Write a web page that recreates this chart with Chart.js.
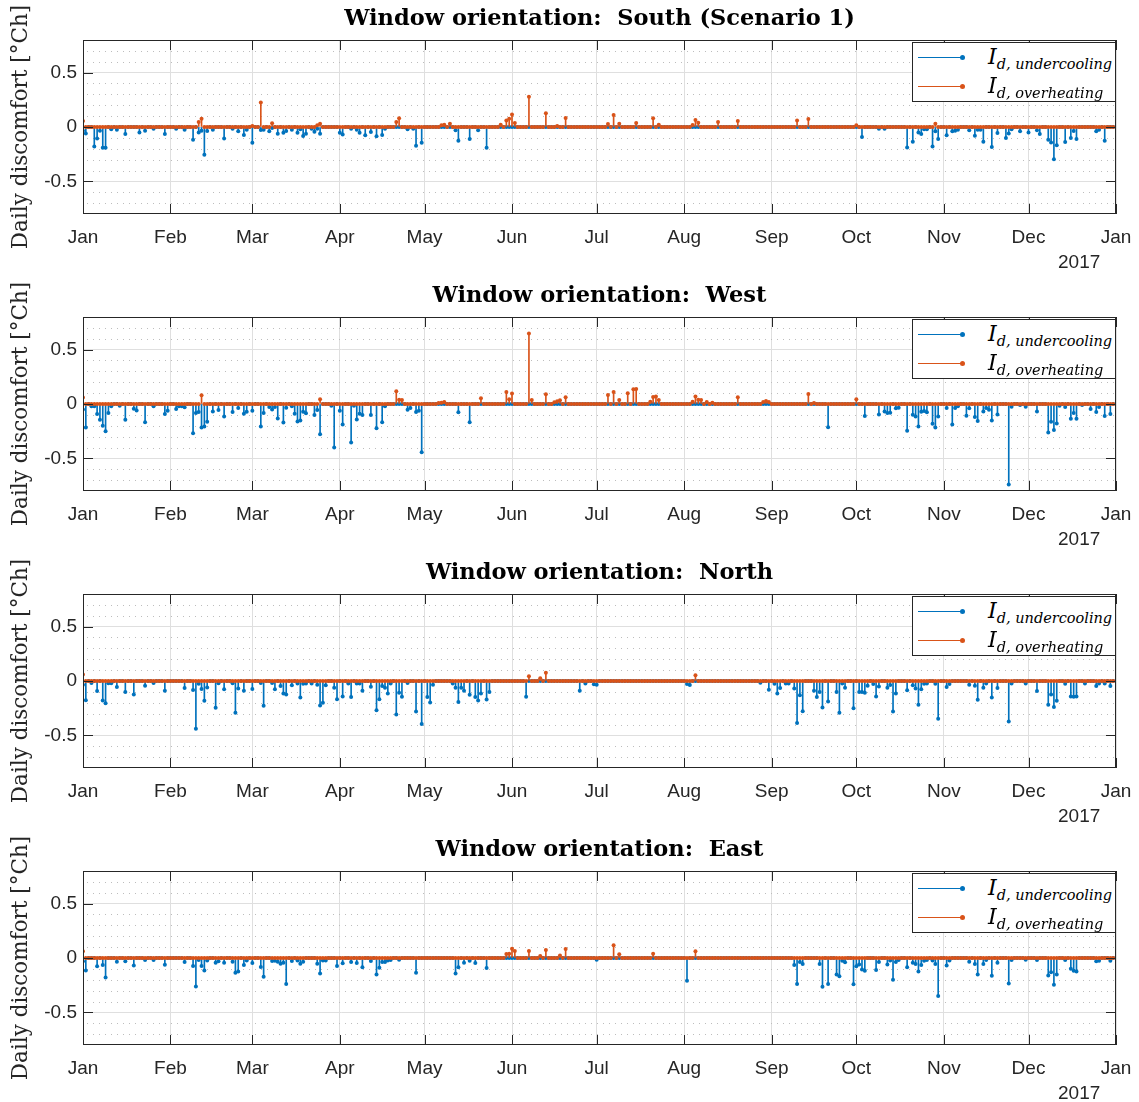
<!DOCTYPE html>
<html>
<head>
<meta charset="utf-8">
<title>Daily discomfort by window orientation</title>
<script src="https://cdn.jsdelivr.net/npm/chart.js@4.4.0/dist/chart.umd.min.js"></script>
<style>
  body { margin: 0; background: #fff; width: 1139px; height: 1102px; overflow: hidden; }
  .panel { position: absolute; left: 0; width: 1139px; height: 277px; }
  .legend { position: absolute; left: 912px; top: 42px; width: 202px; height: 58px;
            border: 1px solid #262626; background: #fff; font-family: 'DejaVu Serif', serif; color: #000; }
  .legend .row { position: absolute; left: 0; width: 202px; height: 28px; }
  .legend .line { position: absolute; left: 5px; top: 14px; width: 45px; height: 1px; }
  .legend .dot { position: absolute; left: 47px; top: 12px; width: 5px; height: 5px; border-radius: 50%; }
  .legend .txt { position: absolute; left: 75px; top: 0; font-style: italic; font-size: 22px;
                 line-height: 28px; white-space: nowrap; }
  .legend sub { font-size: 14.5px; vertical-align: -5px; }
  .year { position: absolute; left: 1058px; top: 251px; font: 19px 'Liberation Sans', Arial, sans-serif; color: #262626; }
</style>
</head>
<body>
<div id="page"></div>
<script>
// x axis: day of year 2016 (leap year), month boundaries
const dayCount = 366;
const monthStarts = [0, 31, 60, 91, 121, 152, 182, 213, 244, 274, 305, 335, 366];
const monthLabels = ['Jan', 'Feb', 'Mar', 'Apr', 'May', 'Jun', 'Jul', 'Aug', 'Sep', 'Oct', 'Nov', 'Dec', 'Jan'];
const yearLabel = '2017';
const yTicks = [-0.5, 0, 0.5];
const minorYTicks = [-0.7, -0.6, -0.4, -0.3, -0.2, -0.1, 0.1, 0.2, 0.3, 0.4, 0.6, 0.7];

const panelTitles = [
  'Window orientation:  South (Scenario 1)',
  'Window orientation:  West',
  'Window orientation:  North',
  'Window orientation:  East'
];

// [day, value] for every day with non-zero discomfort; all other days are 0
const southCooling = [[0,-0.034],[1,-0.06],[4,-0.18],[5,-0.105],[6,-0.034],[7,-0.19],[8,-0.19],[10,-0.02],[12,-0.025],[15,-0.065],[20,-0.05],[22,-0.034],[25,-0.015],[29,-0.065],[33,-0.015],[36,-0.025],[39,-0.117],[41,-0.05],[42,-0.034],[43,-0.256],[44,-0.037],[46,-0.025],[50,-0.105],[53,-0.015],[55,-0.04],[57,-0.074],[58,-0.025],[60,-0.145],[63,-0.028],[64,-0.025],[66,-0.04],[67,-0.01],[69,-0.062],[71,-0.052],[72,-0.037],[74,-0.025],[76,-0.052],[77,-0.02],[78,-0.083],[79,-0.062],[81,-0.015],[82,-0.043],[83,-0.015],[84,-0.062],[91,-0.052],[92,-0.068],[95,-0.015],[97,-0.025],[98,-0.052],[100,-0.077],[102,-0.046],[104,-0.086],[106,-0.074],[107,-0.015],[115,-0.02],[117,-0.015],[118,-0.173],[120,-0.145],[132,-0.03],[133,-0.127],[137,-0.11],[140,-0.03],[143,-0.19],
  [276,-0.093],[282,-0.015],[284,-0.015],[292,-0.188],[294,-0.136],[296,-0.05],[297,-0.065],[298,-0.02],[299,-0.02],[301,-0.18],[302,-0.04],[303,-0.11],[306,-0.077],[308,-0.04],[309,-0.034],[310,-0.025],[314,-0.03],[316,-0.08],[317,-0.025],[318,-0.025],[319,-0.136],[322,-0.185],[324,-0.056],[327,-0.1],[328,-0.06],[329,-0.02],[332,-0.04],[335,-0.05],[338,-0.03],[339,-0.065],[342,-0.117],[343,-0.142],[344,-0.296],[345,-0.167],[348,-0.139],[350,-0.1],[351,-0.037],[352,-0.11],[359,-0.04],[360,-0.025],[362,-0.127]];
const southHeating = [[0,0.055],[41,0.046],[42,0.077],[60,0.01],[63,0.225],[67,0.034],[83,0.015],[84,0.03],[111,0.046],[112,0.08],[127,0.015],[128,0.02],[130,0.03],[148,0.02],[150,0.06],[151,0.077],[152,0.114],[153,0.037],[158,0.278],[164,0.127],[168,0.01],[171,0.083],[186,0.028],[188,0.11],[190,0.03],[196,0.037],[202,0.08],[204,0.02],[216,0.018],[217,0.065],[218,0.04],[225,0.046],[232,0.055],[253,0.06],[257,0.074],[274,0.015],[302,0.03]];

const westCooling = [[0,-0.05],[1,-0.216],[3,-0.02],[4,-0.02],[5,-0.093],[6,-0.145],[7,-0.2],[8,-0.25],[9,-0.083],[10,-0.02],[13,-0.015],[15,-0.145],[18,-0.043],[19,-0.06],[22,-0.167],[25,-0.02],[29,-0.093],[30,-0.062],[33,-0.046],[34,-0.02],[35,-0.02],[36,-0.03],[39,-0.27],[40,-0.083],[41,-0.074],[42,-0.216],[43,-0.207],[44,-0.164],[46,-0.068],[48,-0.056],[50,-0.114],[53,-0.074],[55,-0.037],[57,-0.09],[58,-0.071],[60,-0.062],[63,-0.207],[64,-0.083],[66,-0.028],[67,-0.05],[68,-0.028],[69,-0.133],[71,-0.17],[72,-0.034],[74,-0.02],[75,-0.09],[76,-0.16],[77,-0.151],[78,-0.071],[79,-0.086],[82,-0.1],[83,-0.056],[84,-0.278],[88,-0.015],[89,-0.4],[91,-0.062],[92,-0.188],[95,-0.355],[96,-0.015],[97,-0.142],[98,-0.09],[99,-0.1],[102,-0.1],[104,-0.222],[106,-0.167],[107,-0.02],[115,-0.052],[116,-0.037],[118,-0.074],[119,-0.062],[120,-0.444],[133,-0.077],[137,-0.167],
  [264,-0.213],[277,-0.111],[282,-0.096],[284,-0.068],[285,-0.083],[286,-0.08],[288,-0.04],[289,-0.034],[292,-0.247],[294,-0.099],[295,-0.114],[296,-0.207],[297,-0.071],[298,-0.065],[299,-0.077],[301,-0.182],[302,-0.216],[303,-0.114],[306,-0.037],[308,-0.188],[309,-0.037],[310,-0.02],[313,-0.108],[314,-0.04],[316,-0.12],[317,-0.157],[319,-0.068],[320,-0.037],[321,-0.052],[322,-0.151],[324,-0.096],[328,-0.74],[329,-0.025],[332,-0.01],[334,-0.025],[338,-0.068],[342,-0.262],[343,-0.164],[344,-0.238],[345,-0.179],[346,-0.015],[348,-0.028],[350,-0.136],[351,-0.083],[352,-0.136],[354,-0.01],[357,-0.046],[359,-0.074],[360,-0.028],[362,-0.111],[364,-0.093]];
const westHeating = [[0,0.059],[42,0.08],[84,0.043],[111,0.117],[112,0.04],[113,0.037],[126,0.01],[127,0.012],[128,0.018],[141,0.052],[150,0.111],[151,0.043],[152,0.096],[158,0.648],[159,0.037],[164,0.09],[167,0.015],[168,0.025],[169,0.034],[171,0.062],[186,0.083],[188,0.111],[190,0.037],[193,0.1],[195,0.136],[196,0.139],[201,0.02],[202,0.065],[203,0.068],[204,0.037],[216,0.02],[217,0.068],[218,0.04],[219,0.037],[221,0.018],[223,0.012],[232,0.062],[241,0.018],[242,0.028],[243,0.018],[257,0.093],[259,0.01],[274,0.043]];

const northCooling = [[0,-0.034],[1,-0.176],[3,-0.018],[5,-0.093],[7,-0.179],[8,-0.204],[9,-0.02],[10,-0.02],[12,-0.056],[15,-0.1],[18,-0.123],[22,-0.043],[25,-0.018],[29,-0.09],[36,-0.065],[39,-0.083],[40,-0.44],[41,-0.025],[42,-0.074],[43,-0.182],[44,-0.059],[47,-0.247],[48,-0.02],[50,-0.077],[53,-0.02],[54,-0.293],[55,-0.068],[57,-0.09],[60,-0.074],[63,-0.018],[64,-0.228],[67,-0.018],[68,-0.077],[70,-0.046],[71,-0.114],[72,-0.123],[74,-0.04],[76,-0.022],[77,-0.151],[78,-0.025],[79,-0.022],[81,-0.022],[83,-0.034],[84,-0.225],[85,-0.2],[86,-0.04],[89,-0.062],[90,-0.167],[92,-0.142],[94,-0.022],[95,-0.148],[97,-0.022],[98,-0.022],[99,-0.09],[102,-0.052],[104,-0.269],[105,-0.167],[106,-0.046],[107,-0.062],[108,-0.114],[109,-0.022],[111,-0.309],[112,-0.108],[113,-0.145],[115,-0.018],[118,-0.28],[120,-0.395],[122,-0.148],[123,-0.198],[124,-0.034],[131,-0.022],[132,-0.062],[133,-0.194],[134,-0.062],[135,-0.09],[137,-0.127],[139,-0.148],[140,-0.179],[141,-0.114],[143,-0.17],[144,-0.1],[157,-0.145],[176,-0.09],[178,-0.022],[181,-0.031],
  [182,-0.034],[214,-0.028],[215,-0.037],[240,-0.015],[243,-0.08],[245,-0.025],[246,-0.114],[247,-0.065],[249,-0.022],[250,-0.022],[252,-0.068],[253,-0.386],[254,-0.13],[255,-0.278],[259,-0.09],[260,-0.148],[261,-0.1],[262,-0.244],[264,-0.188],[267,-0.1],[268,-0.293],[269,-0.022],[270,-0.062],[273,-0.25],[275,-0.1],[276,-0.102],[277,-0.108],[278,-0.043],[280,-0.028],[281,-0.142],[282,-0.05],[285,-0.062],[286,-0.037],[287,-0.28],[288,-0.114],[292,-0.086],[294,-0.04],[295,-0.068],[296,-0.219],[297,-0.077],[298,-0.025],[299,-0.022],[302,-0.025],[303,-0.346],[306,-0.056],[307,-0.028],[314,-0.034],[316,-0.043],[317,-0.173],[319,-0.062],[320,-0.022],[322,-0.151],[324,-0.065],[328,-0.373],[329,-0.022],[334,-0.022],[338,-0.093],[342,-0.219],[343,-0.123],[344,-0.238],[345,-0.182],[348,-0.025],[350,-0.142],[351,-0.145],[352,-0.142],[355,-0.022],[359,-0.046],[360,-0.022],[362,-0.022],[364,-0.046]];
const northHeating = [[0,0.059],[158,0.043],[162,0.025],[164,0.077],[217,0.052]];

const eastCooling = [[0,-0.031],[1,-0.114],[5,-0.077],[7,-0.065],[8,-0.179],[12,-0.034],[15,-0.031],[18,-0.068],[22,-0.018],[25,-0.018],[29,-0.062],[36,-0.037],[39,-0.074],[40,-0.262],[41,-0.018],[42,-0.074],[43,-0.114],[44,-0.022],[47,-0.043],[48,-0.031],[50,-0.043],[53,-0.034],[54,-0.136],[55,-0.123],[57,-0.065],[58,-0.022],[60,-0.046],[63,-0.083],[64,-0.173],[67,-0.028],[68,-0.025],[69,-0.034],[70,-0.052],[71,-0.043],[72,-0.238],[74,-0.028],[76,-0.022],[77,-0.052],[78,-0.034],[83,-0.052],[84,-0.142],[85,-0.022],[86,-0.022],[90,-0.074],[92,-0.049],[95,-0.037],[97,-0.046],[99,-0.086],[102,-0.028],[104,-0.151],[105,-0.09],[106,-0.037],[107,-0.037],[108,-0.022],[109,-0.018],[112,-0.015],[118,-0.136],[132,-0.142],[133,-0.086],[135,-0.043],[137,-0.025],[139,-0.046],[143,-0.093],
  [182,-0.015],[214,-0.21],[252,-0.065],[253,-0.24],[254,-0.037],[255,-0.056],[261,-0.056],[262,-0.265],[264,-0.238],[267,-0.151],[268,-0.167],[269,-0.025],[270,-0.04],[273,-0.241],[274,-0.077],[275,-0.059],[276,-0.105],[277,-0.117],[281,-0.111],[282,-0.037],[285,-0.059],[286,-0.022],[287,-0.2],[288,-0.037],[289,-0.018],[292,-0.086],[294,-0.043],[295,-0.056],[296,-0.123],[297,-0.065],[298,-0.025],[299,-0.018],[301,-0.022],[302,-0.056],[303,-0.349],[306,-0.068],[307,-0.022],[314,-0.034],[316,-0.056],[317,-0.151],[319,-0.056],[320,-0.018],[322,-0.164],[324,-0.043],[328,-0.235],[329,-0.018],[334,-0.015],[338,-0.018],[342,-0.16],[343,-0.13],[344,-0.247],[345,-0.151],[348,-0.018],[350,-0.099],[351,-0.117],[352,-0.123],[359,-0.031],[360,-0.025],[364,-0.025]];
const eastHeating = [[0,0.062],[150,0.037],[151,0.04],[152,0.086],[153,0.065],[158,0.065],[162,0.018],[164,0.074],[169,0.022],[171,0.083],[188,0.117],[190,0.034],[202,0.04],[217,0.062]];

const panels = [
  [southCooling, southHeating],
  [westCooling, westHeating],
  [northCooling, northHeating],
  [eastCooling, eastHeating]
];

const blue = '#0072BD';
const orange = '#D95319';
const tickFont = { family: "'Liberation Sans', Arial, sans-serif", size: 19 };

// one point per day, zero where nothing was recorded
function dailySeries(stems) {
  const byDay = new Map(stems);
  const pts = [];
  for (let d = 0; d < dayCount; d++) {
    pts.push({ x: d, y: byDay.has(d) ? byDay.get(d) : 0 });
  }
  return pts;
}

// dotted minor grid, axes box and inward tick marks
const axesFrame = {
  id: 'axesFrame',
  beforeDatasetsDraw(chart) {
    const { ctx, chartArea: a, scales: { y } } = chart;
    ctx.save();
    ctx.strokeStyle = '#bdbdbd';
    ctx.lineWidth = 1;
    ctx.setLineDash([1, 5]);
    minorYTicks.forEach(v => {
      const py = Math.round(y.getPixelForValue(v)) + 0.5;
      ctx.beginPath();
      ctx.moveTo(a.left + 4, py);
      ctx.lineTo(a.right, py);
      ctx.stroke();
    });
    ctx.restore();
  },
  afterDatasetsDraw(chart) {
    const { ctx, chartArea: a, scales: { x, y } } = chart;
    const len = 10;
    ctx.save();
    ctx.strokeStyle = '#262626';
    ctx.lineWidth = 1;
    ctx.beginPath();
    monthStarts.forEach(v => {
      const px = Math.round(x.getPixelForValue(v)) + 0.5;
      ctx.moveTo(px, a.bottom); ctx.lineTo(px, a.bottom - len);
      ctx.moveTo(px, a.top); ctx.lineTo(px, a.top + len);
    });
    yTicks.forEach(v => {
      const py = Math.round(y.getPixelForValue(v)) + 0.5;
      ctx.moveTo(a.left, py); ctx.lineTo(a.left + len, py);
      ctx.moveTo(a.right, py); ctx.lineTo(a.right - len, py);
    });
    ctx.stroke();
    ctx.strokeRect(Math.round(a.left) + 0.5, Math.round(a.top) + 0.5,
                   Math.round(a.right - a.left) - 1, Math.round(a.bottom - a.top) - 1);
    ctx.restore();
  }
};

function legendRow(top, color, sub) {
  return '<div class="row" style="top:' + top + 'px">' +
    '<div class="line" style="background:' + color + '"></div>' +
    '<div class="dot" style="background:' + color + '"></div>' +
    '<div class="txt">I<sub>d, ' + sub + '</sub></div></div>';
}

const page = document.getElementById('page');

panels.forEach((series, i) => {
  const panel = document.createElement('div');
  panel.className = 'panel';
  panel.style.top = (i * 277) + 'px';
  panel.innerHTML = '<canvas width="1139" height="277"></canvas>' +
    '<div class="legend">' + legendRow(0, blue, 'undercooling') + legendRow(29, orange, 'overheating') + '</div>' +
    '<div class="year">' + yearLabel + '</div>';
  page.appendChild(panel);

  const cooling = dailySeries(series[0]);
  const heating = dailySeries(series[1]);

  new Chart(panel.querySelector('canvas'), {
    type: 'bar',
    data: {
      datasets: [
        { type: 'bar', data: cooling, backgroundColor: blue, barThickness: 1, grouped: false, borderWidth: 0, order: 4 },
        { type: 'line', data: cooling, showLine: false, pointRadius: 2, pointBackgroundColor: blue, pointBorderWidth: 0, order: 3 },
        { type: 'bar', data: heating, backgroundColor: orange, barThickness: 1, grouped: false, borderWidth: 0, order: 2 },
        { type: 'line', data: heating, showLine: false, pointRadius: 2, pointBackgroundColor: orange, pointBorderWidth: 0, order: 1 }
      ]
    },
    options: {
      responsive: false,
      animation: false,
      events: [],
      layout: { padding: { left: 0, right: 23, top: 0, bottom: 0 } },
      plugins: {
        legend: { display: false },
        tooltip: { enabled: false },
        title: {
          display: true,
          text: panelTitles[i],
          fullSize: false,
          color: '#000',
          font: { family: "'DejaVu Serif', serif", size: 22.5, weight: 'bold' },
          padding: { top: 6, bottom: 7 }
        }
      },
      scales: {
        x: {
          type: 'linear',
          min: 0,
          max: monthStarts[monthStarts.length - 1],
          offset: false,
          grid: { color: '#dfdfdf', drawTicks: false, offset: false },
          border: { display: false },
          afterBuildTicks: s => { s.ticks = monthStarts.map(v => ({ value: v })); },
          // fixed axis height; the end labels may overhang the plot edges
          afterFit: s => { s.height = 63; s.paddingLeft = 0; s.paddingRight = 0; },
          ticks: {
            autoSkip: false, maxRotation: 0, padding: 12,
            color: '#262626', font: tickFont,
            callback: (v, idx) => monthLabels[idx]
          }
        },
        y: {
          min: -0.8,
          max: 0.8,
          grid: { color: '#dfdfdf', drawTicks: false },
          border: { display: false },
          afterBuildTicks: s => { s.ticks = yTicks.map(v => ({ value: v })); },
          afterFit: s => { s.width = 83; },
          ticks: { padding: 6, color: '#262626', font: tickFont, callback: v => String(v) },
          title: {
            display: true,
            text: 'Daily discomfort [°Ch]',
            color: '#262626',
            font: { family: "'DejaVu Serif', serif", size: 21.5 },
            padding: { top: 9, bottom: 0 }
          }
        }
      }
    },
    plugins: [axesFrame]
  });
});
</script>
</body>
</html>
